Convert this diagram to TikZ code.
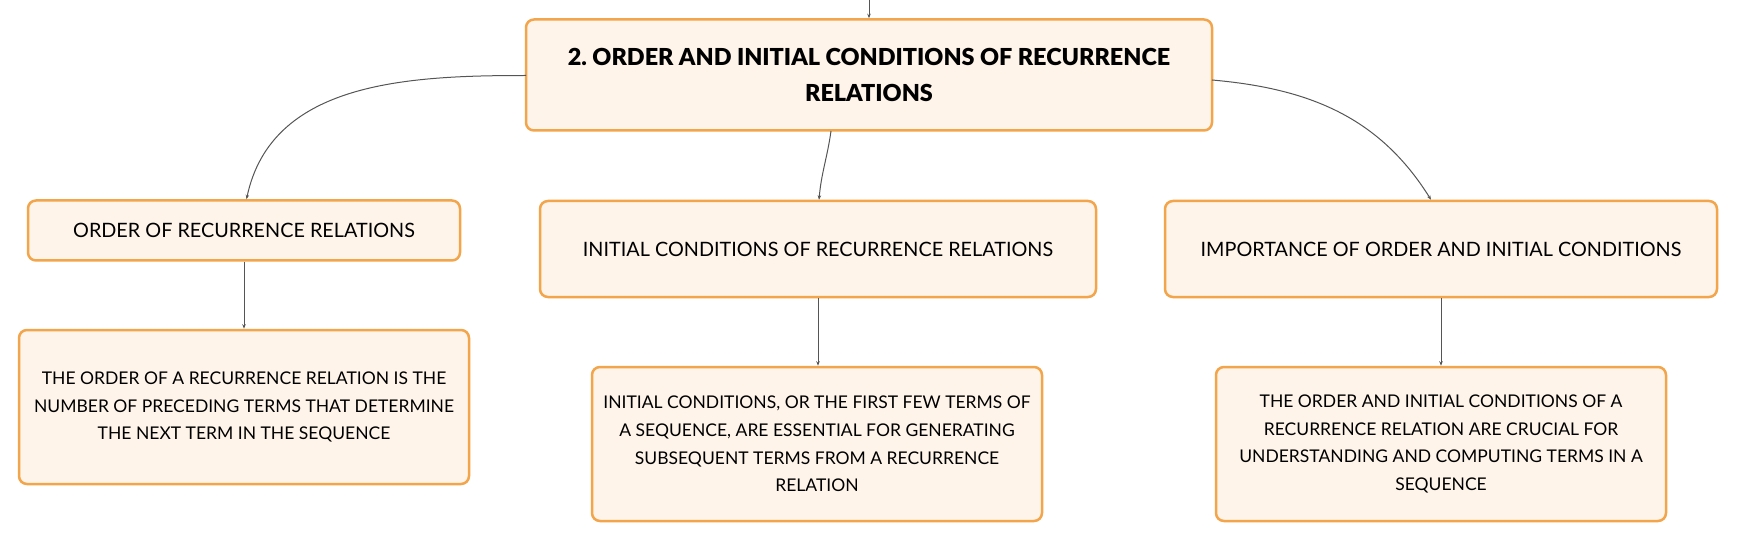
\documentclass[tikz,border=0pt]{standalone}
\usepackage{fontspec}
\setmainfont{Lato}
\newfontfamily\titlefont{Lato Black}
\usetikzlibrary{arrows.meta}
\definecolor{boxborder}{HTML}{F2A54A}
\definecolor{boxfill}{HTML}{FEF4EA}
\definecolor{linkgray}{HTML}{555555}
\frenchspacing
\tikzset{
  box/.style={draw=boxborder, fill=boxfill, line width=2.5pt, rounded corners=8pt,
    align=center, inner sep=0pt},
  headbox/.style={box, font=\fontsize{19.8}{27.8}\selectfont},
  bodybox/.style={box, minimum width=450pt, minimum height=154pt, font=\fontsize{17.5}{27.8}\selectfont},
  titlebox/.style={box, font=\titlefont\fontsize{23.4}{36.7}\selectfont},
  link/.style={draw=linkgray, line width=1pt, -{Stealth[length=4.5pt,width=3.5pt]}},
}
\begin{document}
\begin{tikzpicture}[x=1pt,y=-1pt]
\useasboundingbox (0,0) rectangle (1738,540);
\node[titlebox, minimum width=686pt, minimum height=111pt] (T) at (869,75)
  {2. ORDER AND INITIAL CONDITIONS OF RECURRENCE\\RELATIONS};
\coordinate (top) at (869,0);
\node[headbox, minimum width=432pt, minimum height=60pt] (A) at (244,230.5) {ORDER OF RECURRENCE RELATIONS};
\node[headbox, minimum width=556pt, minimum height=96pt] (B) at (818,249) {INITIAL CONDITIONS OF RECURRENCE RELATIONS};
\node[headbox, minimum width=552pt, minimum height=96pt] (C) at (1441,249) {IMPORTANCE OF ORDER AND INITIAL CONDITIONS};
\node[bodybox] (A2) at (244,407)
  {THE ORDER OF A RECURRENCE RELATION IS THE\\NUMBER OF PRECEDING TERMS THAT DETERMINE\\THE NEXT TERM IN THE SEQUENCE};
\node[bodybox] (B2) at (817,444)
  {INITIAL CONDITIONS, OR THE FIRST FEW TERMS OF\\A SEQUENCE, ARE ESSENTIAL FOR GENERATING\\SUBSEQUENT TERMS FROM A RECURRENCE\\RELATION};
\node[bodybox] (C2) at (1441,444)
  {THE ORDER AND INITIAL CONDITIONS OF A\\RECURRENCE RELATION ARE CRUCIAL FOR\\UNDERSTANDING AND COMPUTING TERMS IN A\\SEQUENCE};
\coordinate (tl) at (526,75.5);
\coordinate (tr) at (1212,80);
\coordinate (tb) at (831,131);
\draw[link] (top) -- (T.north);
\draw[link] (tl) to[out=180,in=78] ([xshift=2.5pt]A.north);
\draw[link] (tb) to[out=-98,in=85] ([xshift=1pt]B.north);
\draw[link] (tr) to[out=-5,in=122] ([xshift=-10pt]C.north);
\draw[link] (A) -- (A2);
\draw[link] (B.south) -- (B.south |- B2.north);
\draw[link] (C) -- (C2);
\end{tikzpicture}
\end{document}
